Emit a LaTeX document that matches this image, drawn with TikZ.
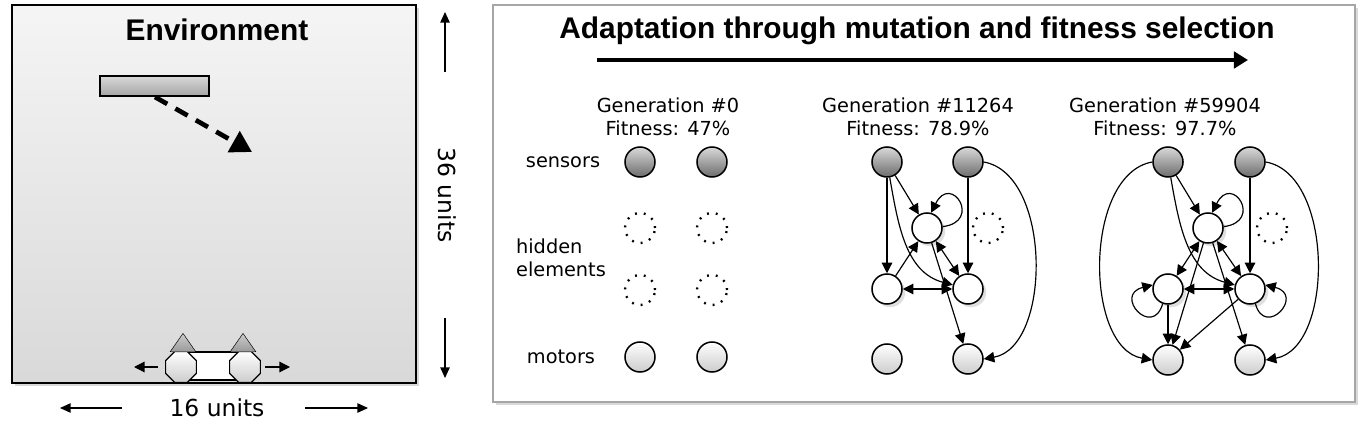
\documentclass[tikz,border=0pt]{standalone}
\usepackage{fontspec}
\setmainfont{DejaVu Sans}
\newfontfamily\arialf{Liberation Sans}
\usetikzlibrary{arrows.meta,shapes.geometric,shadows}
\begin{document}
\begin{tikzpicture}[x=0.03cm,y=-0.03cm,
  lbl/.style={font=\fontsize{16.5}{20}\selectfont},
  ttl/.style={font=\arialf\fontsize{25.5}{29}\selectfont\bfseries},
  nd/.style={circle,draw,line width=1.3pt,minimum size=0.9cm,inner sep=0},
  sens/.style={nd,top color=gray!30,bottom color=gray!85!black},
  mot/.style={nd,top color=white,bottom color=gray!40},
  hid/.style={nd,fill=white,drop shadow={opacity=0.25}},
  dot/.style={nd,draw=black,line width=2pt,dash pattern=on 1.6pt off 6pt,fill=white},
  e/.style={-{Triangle[length=9pt,width=9pt]},line width=1pt},
  b/.style={{Triangle[length=9pt,width=9pt]}-{Triangle[length=9pt,width=9pt]},line width=1pt},
  ar/.style={-{Triangle[length=9pt,width=8pt]},line width=1pt}]
\useasboundingbox (0,0) rectangle (1362,429);
% environment
\node[draw,line width=1.2pt,minimum width=12.12cm,minimum height=11.34cm,top color=gray!8,bottom color=gray!30,inner sep=0,drop shadow={opacity=0.3}] (env) at (214,194) {};
\node[ttl] (envt) at (217,30) {Environment};
\node[draw,line width=1pt,minimum width=3.27cm,minimum height=0.6cm,inner sep=0,top color=gray!30,bottom color=gray!70] (bar) at (154.5,86) {};
\coordinate (dashs) at (155,97);
\coordinate (dashe) at (252,152);
\draw[line width=4pt,dash pattern=on 12pt off 8pt,-{Triangle[length=18pt,width=20pt]}] (dashs) -- (dashe);
\node[draw,line width=1pt,fill=white,minimum width=1.9cm,minimum height=0.84cm,inner sep=0] (body) at (213,366) {};
\node[regular polygon,regular polygon sides=8,draw,line width=1pt,minimum size=1.0cm,inner sep=0,top color=white,bottom color=gray!40] (w1) at (181,367) {};
\node[regular polygon,regular polygon sides=8,draw,line width=1pt,minimum size=1.0cm,inner sep=0,top color=white,bottom color=gray!40] (w2) at (245,367) {};
\node[isosceles triangle,shape border rotate=90,draw,minimum height=0.55cm,inner sep=0,isosceles triangle apex angle=70,top color=gray!40,bottom color=gray!80,anchor=south] (t1) at (183,352) {};
\node[isosceles triangle,shape border rotate=90,draw,minimum height=0.55cm,inner sep=0,isosceles triangle apex angle=70,top color=gray!40,bottom color=gray!80,anchor=south] (t2) at (243,352) {};
\coordinate (la) at (158,367); \coordinate (lb) at (134,367);
\coordinate (ra) at (265,367); \coordinate (rb) at (290,367);
\draw[e] (la) -- (lb); \draw[e] (ra) -- (rb);
\node[font=\fontsize{20}{23}\selectfont] (w16) at (217,408) {16 units};
\coordinate (a1) at (122,408); \coordinate (a2) at (60,408);
\coordinate (a3) at (305,408); \coordinate (a4) at (368,408);
\draw[ar] (a1) -- (a2); \draw[ar] (a3) -- (a4);
\node[font=\fontsize{20}{23}\selectfont,rotate=-90] (h36) at (447,195) {36 units};
\coordinate (b1) at (445,72); \coordinate (b2) at (445,12);
\coordinate (b3) at (445,318); \coordinate (b4) at (445,378);
\draw[ar] (b1) -- (b2); \draw[ar] (b3) -- (b4);
% right panel
\node[draw=gray!70,line width=1.2pt,fill=white,minimum width=25.86cm,minimum height=11.91cm,inner sep=0,drop shadow={opacity=0.3}] (panel) at (924,203.5) {};
\node[ttl] (pt) at (917,31) {Adaptation through mutation and fitness selection};
\coordinate (p1) at (597,60); \coordinate (p2) at (1248,60);
\draw[line width=3.5pt,-{Triangle[length=12pt,width=14pt]}] (p1) -- (p2);
\node[lbl,align=center] (g0) at (668,117) {Generation \#0\\Fitness: 47\%};
\node[lbl,align=center] (g1) at (918,117) {Generation \#11264\\Fitness: 78.9\%};
\node[lbl,align=center] (g2) at (1165,117) {Generation \#59904\\Fitness: 97.7\%};
\node[lbl] (ls) at (563,162) {sensors};
\node[lbl,align=left] (lh) at (561,258) {hidden\\elements};
\node[lbl] (lm) at (561,357) {motors};
% gen 0
\node[sens] (a0s1) at (640,162) {}; \node[sens] (a0s2) at (712,162) {};
\node[dot] (a0h1) at (640,228) {}; \node[dot] (a0h2) at (712,228) {};
\node[dot] (a0h3) at (640,290) {}; \node[dot] (a0h4) at (712,290) {};
\node[mot] (a0m1) at (640,357) {}; \node[mot] (a0m2) at (712,357) {};
% gen 1
\node[sens] (s1) at (887,162) {}; \node[sens] (s2) at (968,162) {};
\node[hid] (h) at (927,228) {}; \node[dot] (d) at (988,228) {};
\node[hid] (l) at (887,289) {}; \node[hid] (r) at (968,289) {};
\node[mot] (m1) at (887,359) {}; \node[mot] (m2) at (968,359) {};
\draw[e] (s1) -- (l);
\draw[e] (s1) -- (h);
\draw[e] (s1) to[out=-80,in=165] (r);
\draw[e] (h.5) .. controls ++(40,-5) and ++(20,-40) .. (h.75);
\draw[e] (l) -- (h);
\draw[b] (h) -- (r);
\draw[b] (l) -- (r);
\draw[e] (h) -- (m2);
\draw[e] (s2) -- (r);
\draw[e] (s2.east) to[out=-10,in=10,looseness=0.9] (m2.east);
% gen 2
\node[sens] (t1) at (1168,162) {}; \node[sens] (t2) at (1250,162) {};
\node[hid] (hh) at (1208,228) {}; \node[dot] (dd) at (1272,228) {};
\node[hid] (ll) at (1168,289) {}; \node[hid] (rr) at (1250,289) {};
\node[mot] (n1) at (1168,360) {}; \node[mot] (n2) at (1250,360) {};
\draw[e] (t1.west) to[out=190,in=170,looseness=0.9] (n1.west);
\draw[e] (t1) -- (hh);
\draw[e] (t1) to[out=-80,in=165] (rr);
\draw[e] (hh.5) .. controls ++(40,-5) and ++(20,-40) .. (hh.75);
\draw[b] (hh) -- (ll);
\draw[b] (hh) -- (rr);
\draw[b] (ll) -- (rr);
\draw[e] (ll.-110) .. controls ++(-10,35) and ++(-40,10) .. (ll.165);
\draw[e] (rr.-70) .. controls ++(10,35) and ++(40,10) .. (rr.15);
\draw[e] (ll) -- (n1);
\draw[e] (hh) -- (n1);
\draw[e] (rr) -- (n1);
\draw[e] (hh) -- (n2);
\draw[e] (t2) -- (rr);
\draw[e] (t2.east) to[out=-10,in=10,looseness=0.9] (n2.east);
\end{tikzpicture}
\end{document}
